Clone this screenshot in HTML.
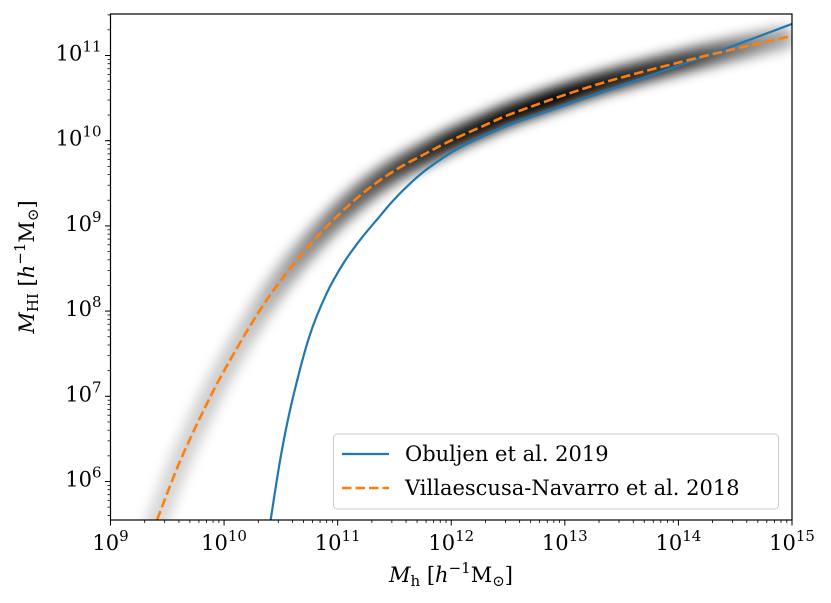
<!DOCTYPE html>
<html><head><meta charset="utf-8">
<style>
html,body{margin:0;padding:0;background:#fff;overflow:hidden;}
svg{display:block;font-family:"DejaVu Serif","Liberation Serif",serif;}
</style></head>
<body>
<svg id="chart" width="831" height="603" viewBox="0 0 831 603" xmlns="http://www.w3.org/2000/svg">
<defs>
<filter id="blur" x="-20%" y="-20%" width="140%" height="140%"><feGaussianBlur stdDeviation="6"/></filter>
<linearGradient id="bandGrad" gradientUnits="userSpaceOnUse" x1="110" y1="0" x2="792" y2="0">
<stop offset="0" stop-color="#000" stop-opacity="0.12"/>
<stop offset="0.2" stop-color="#000" stop-opacity="0.22"/>
<stop offset="0.35" stop-color="#000" stop-opacity="0.6"/>
<stop offset="0.5" stop-color="#000" stop-opacity="0.9"/>
<stop offset="0.65" stop-color="#000" stop-opacity="1"/>
<stop offset="0.85" stop-color="#000" stop-opacity="0.75"/>
<stop offset="1" stop-color="#000" stop-opacity="0.3"/>
</linearGradient>
<clipPath id="plotClip"><rect x="110.5" y="14" width="681.5" height="506"/></clipPath>
</defs>
<g id="plot" clip-path="url(#plotClip)"></g>
<g id="axes"></g>
</svg>
<script>
const xTickExps=[9,10,11,12,13,14,15];
const yTickExps=[6,7,8,9,10,11];
const villaLogMh=[9.41,9.6,9.8,10.0,10.32,10.61,10.91,11.2,11.49,11.79,12.01,12.31,12.6,13.31,14.19,15.0];
const villaLogMhi=[5.55,6.2,6.78,7.3,8.02,8.55,9.0,9.36,9.64,9.86,10.01,10.19,10.35,10.67,10.98,11.23];
const obuLogMh=[10.41,10.5,10.6,10.75,10.9,11.05,11.2,11.35,11.49,11.64,11.79,12.05,12.31,12.6,13.31,14.19,15.0];
const obuLogMhi=[5.55,6.3,6.95,7.7,8.2,8.56,8.84,9.08,9.30,9.50,9.67,9.90,10.07,10.23,10.56,10.97,11.37];

const L=110.5,R=792,T=14,B=520;
const xMin=9,xMax=15,yMin=5.548,yMax=11.487;
const sx=v=>L+(v-xMin)/(xMax-xMin)*(R-L);
const sy=v=>B-(v-yMin)/(yMax-yMin)*(B-T);
const NS="http://www.w3.org/2000/svg";
function mk(tag,attrs,parent){const e=document.createElementNS(NS,tag);for(const k in attrs)e.setAttribute(k,attrs[k]);parent.appendChild(e);return e;}
function pathFrom(xs,ys){
  const p=xs.map((x,i)=>[sx(x),sy(ys[i])]);
  let d="M"+p[0][0]+","+p[0][1];
  for(let i=0;i<p.length-1;i++){
    const p0=p[i-1]||p[i],p1=p[i],p2=p[i+1],p3=p[i+2]||p2;
    const c1=[p1[0]+(p2[0]-p0[0])/6,p1[1]+(p2[1]-p0[1])/6];
    const c2=[p2[0]-(p3[0]-p1[0])/6,p2[1]-(p3[1]-p1[1])/6];
    d+=" C"+c1[0]+","+c1[1]+" "+c2[0]+","+c2[1]+" "+p2[0]+","+p2[1];
  }
  return d;
}
const plot=document.getElementById('plot');
const axes=document.getElementById('axes');
const bandX=[9.0].concat(villaLogMh), bandY=[4.1].concat(villaLogMhi);
const band=mk('path',{d:pathFrom(bandX,bandY),fill:'none',stroke:'url(#bandGrad)','stroke-width':22,filter:'url(#blur)'},plot);


const obu=mk('path',{d:pathFrom(obuLogMh,obuLogMhi),fill:'none',stroke:'#1f77b4','stroke-width':2.2},plot);


const vil=mk('path',{d:pathFrom(villaLogMh,villaLogMhi),fill:'none',stroke:'#ff7f0e','stroke-width':2.6,'stroke-dasharray':'9.5,4'},plot);



const frame=mk('rect',{x:L,y:T,width:R-L,height:B-T,fill:'none',stroke:'#000','stroke-width':1.2},axes);


for(let e=xMin;e<xMax;e++){for(let m=2;m<10;m++){const x=sx(e+Math.log10(m));mk('line',{x1:x,x2:x,y1:B,y2:B+3,stroke:'#000','stroke-width':0.8},axes);}}
xTickExps.forEach(e=>{
  const x=sx(e);
  mk('line',{x1:x,x2:x,y1:B,y2:B+5.5,stroke:'#000','stroke-width':1},axes);
  const t=mk('text',{x:x,y:B+30,'text-anchor':'middle','font-size':21},axes);
  
  
  t.innerHTML='10<tspan dy="-9" font-size="15">'+e+'</tspan>';
});
for(let e=5;e<12;e++){for(let m=1;m<10;m++){const v=e+Math.log10(m);if(v<yMin||v>yMax)continue;const y=sy(v);mk('line',{x1:L-3,x2:L,y1:y,y2:y,stroke:'#000','stroke-width':0.8},axes);}}
yTickExps.forEach(e=>{
  const y=sy(e);
  mk('line',{x1:L-5.5,x2:L,y1:y,y2:y,stroke:'#000','stroke-width':1},axes);
  const t=mk('text',{x:L-9,y:y+5,'text-anchor':'end','font-size':21},axes);
  
  
  t.innerHTML='10<tspan dy="-9" font-size="15">'+e+'</tspan>';
});
const xt=mk('text',{x:451,y:582,'text-anchor':'middle','font-size':21},axes);


xt.innerHTML='<tspan font-style="italic">M</tspan><tspan font-size="15" dy="4">h</tspan><tspan dy="-4"> [</tspan><tspan font-style="italic">h</tspan><tspan font-size="15" dy="-9">−1</tspan><tspan dy="9">M</tspan><tspan font-size="15" dy="4">⊙</tspan><tspan dy="-4">]</tspan>';
const yt=mk('text',{x:0,y:0,'text-anchor':'middle','font-size':21,transform:'translate(34,267) rotate(-90)'},axes);


yt.innerHTML='<tspan font-style="italic">M</tspan><tspan font-size="15" dy="4">HI</tspan><tspan dy="-4"> [</tspan><tspan font-style="italic">h</tspan><tspan font-size="15" dy="-9">−1</tspan><tspan dy="9">M</tspan><tspan font-size="15" dy="4">⊙</tspan><tspan dy="-4">]</tspan>';
const lg=mk('g',{},axes);


mk('rect',{x:333.5,y:434,width:445,height:75,rx:4,fill:'#fff','fill-opacity':0.85,stroke:'#ccc','stroke-width':1},lg);
mk('line',{x1:342,x2:389,y1:454,y2:454,stroke:'#1f77b4','stroke-width':2.2},lg);
mk('line',{x1:342,x2:389,y1:488,y2:488,stroke:'#ff7f0e','stroke-width':2.6,'stroke-dasharray':'9.5,4'},lg);
const l1=mk('text',{x:405,y:461,'font-size':21},lg);l1.textContent='Obuljen et al. 2019';


const l2=mk('text',{x:405,y:495,'font-size':21},lg);l2.textContent='Villaescusa-Navarro et al. 2018';


</script>
</body></html>
